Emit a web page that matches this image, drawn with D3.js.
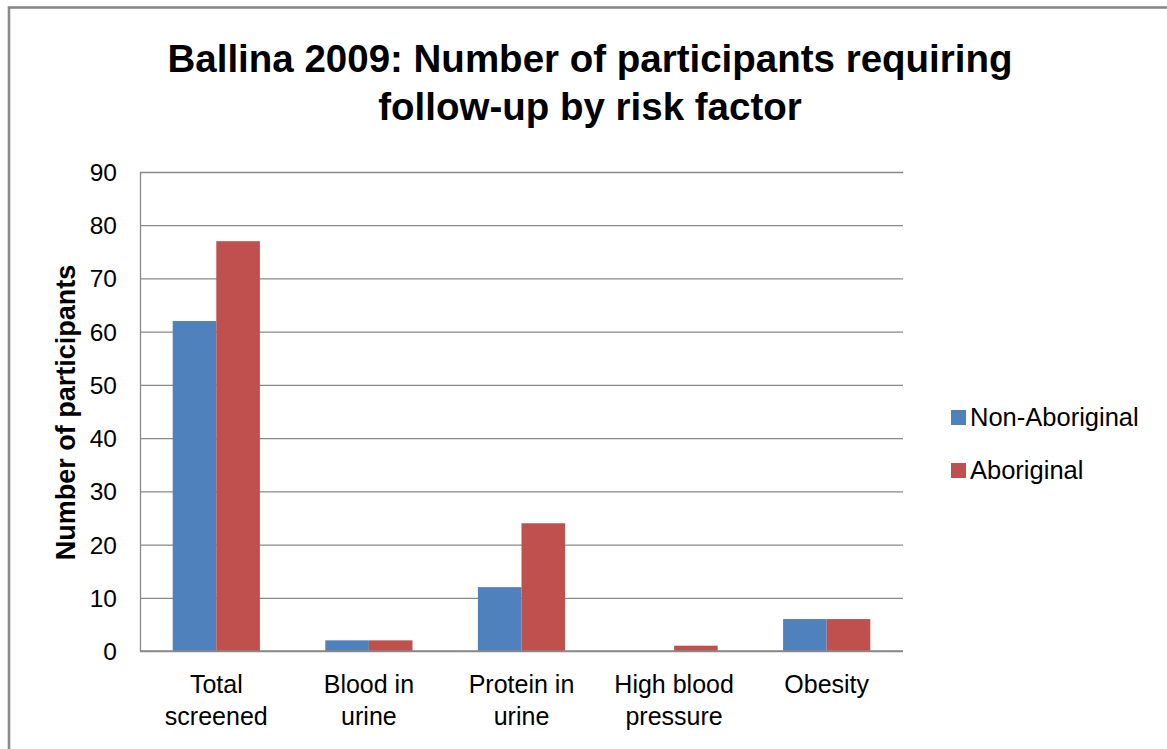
<!DOCTYPE html>
<html>
<head>
<meta charset="utf-8">
<script src="https://cdn.jsdelivr.net/npm/d3@7/dist/d3.min.js"></script>
<style>
  html, body { margin: 0; padding: 0; background: #fff; }
  svg { display: block; }
  text { font-family: "Liberation Sans", Arial, sans-serif; fill: #000; }
</style>
</head>
<body>
<svg id="chart" width="1167" height="749"></svg>
<script>
const categories = [["Total", "screened"], ["Blood in", "urine"], ["Protein in", "urine"], ["High blood", "pressure"], ["Obesity"]];
const seriesNames = ["Non-Aboriginal", "Aboriginal"];
const nonAboriginal = [62, 2, 12, 0, 6];
const aboriginal = [77, 2, 24, 1, 6];
const yTicks = [0, 10, 20, 30, 40, 50, 60, 70, 80, 90];
const titleLines = ["Ballina 2009: Number of participants requiring", "follow-up by risk factor"];
const yAxisTitle = "Number of participants";
const colors = ["#4F81BD", "#C0504D"];

const svg = d3.select("#chart");
const W = 1167, H = 749;
const plot = { left: 140, right: 903, top: 172, bottom: 651 };
const gridColor = "#898989";

// Outer chart border (extends past right/bottom of the picture)
svg.append("rect")
  .attr("x", 9).attr("y", 7.5)
  .attr("width", W + 20).attr("height", H + 20)
  .attr("fill", "none").attr("stroke", "#8a8a8a").attr("stroke-width", 2.6);

// Title
svg.append("g").selectAll("text").data(titleLines).join("text")
  .attr("x", 590).attr("y", (d, i) => 72 + i * 48)
  .attr("text-anchor", "middle")
  .attr("font-weight", "bold").attr("font-size", 38.5)
  .text(d => d);

const x0 = d3.scaleBand().domain(d3.range(categories.length)).range([plot.left, plot.right]).padding(0);
const x1 = d3.scaleBand().domain(seriesNames).range([0, x0.bandwidth()]).paddingInner(0).paddingOuter(0.75);
const y = d3.scaleLinear().domain([0, 90]).range([plot.bottom, plot.top]);

// Gridlines
const yAxis = d3.axisLeft(y).tickValues(yTicks).tickSize(-(plot.right - plot.left)).tickFormat("").tickSizeOuter(0);
const gy = svg.append("g").attr("transform", `translate(${plot.left},0)`).call(yAxis);
gy.select(".domain").attr("stroke", gridColor).attr("stroke-width", 1.3);
gy.selectAll(".tick line").attr("stroke", gridColor).attr("stroke-width", 1.3);

// Tick labels
svg.append("g").selectAll("text").data(yTicks).join("text")
  .attr("x", 117).attr("y", d => y(d) + 9)
  .attr("text-anchor", "end").attr("font-size", 24.5)
  .attr("fill", "#000")
  .text(d => d);

// Bars
const seriesData = [nonAboriginal, aboriginal];
seriesData.forEach((vals, si) => {
  svg.append("g").selectAll("rect").data(vals).join("rect")
    .attr("x", (d, i) => x0(i) + x1(seriesNames[si]))
    .attr("y", d => y(d))
    .attr("width", x1.bandwidth())
    .attr("height", d => y(0) - y(d))
    .attr("fill", colors[si]);
});

// X axis line
svg.append("line")
  .attr("x1", plot.left).attr("x2", plot.right)
  .attr("y1", y(0)).attr("y2", y(0))
  .attr("stroke", gridColor).attr("stroke-width", 1.3);

// Category labels
const cg = svg.append("g").selectAll("text").data(categories).join("text")
  .attr("x", (d, i) => x0(i) + x0.bandwidth() / 2)
  .attr("y", 693)
  .attr("text-anchor", "middle").attr("font-size", 25);
cg.selectAll("tspan").data(d => d).join("tspan")
  .attr("x", function() { return d3.select(this.parentNode).attr("x"); })
  .attr("dy", (d, i) => i === 0 ? 0 : 32)
  .text(d => d);

// Y axis title
svg.append("text")
  .attr("transform", `translate(75, ${(plot.top + plot.bottom) / 2 + 1}) rotate(-90)`)
  .attr("text-anchor", "middle").attr("font-weight", "bold").attr("font-size", 27)
  .text(yAxisTitle);

// Legend
const lg = svg.append("g").selectAll("g").data(seriesNames).join("g")
  .attr("transform", (d, i) => `translate(951, ${410 + i * 53})`);
lg.append("rect").attr("width", 15).attr("height", 15).attr("fill", (d, i) => colors[i]);
lg.append("text").attr("x", 19).attr("y", 15.5).attr("font-size", 25.5).text(d => d);
</script>
</body>
</html>
